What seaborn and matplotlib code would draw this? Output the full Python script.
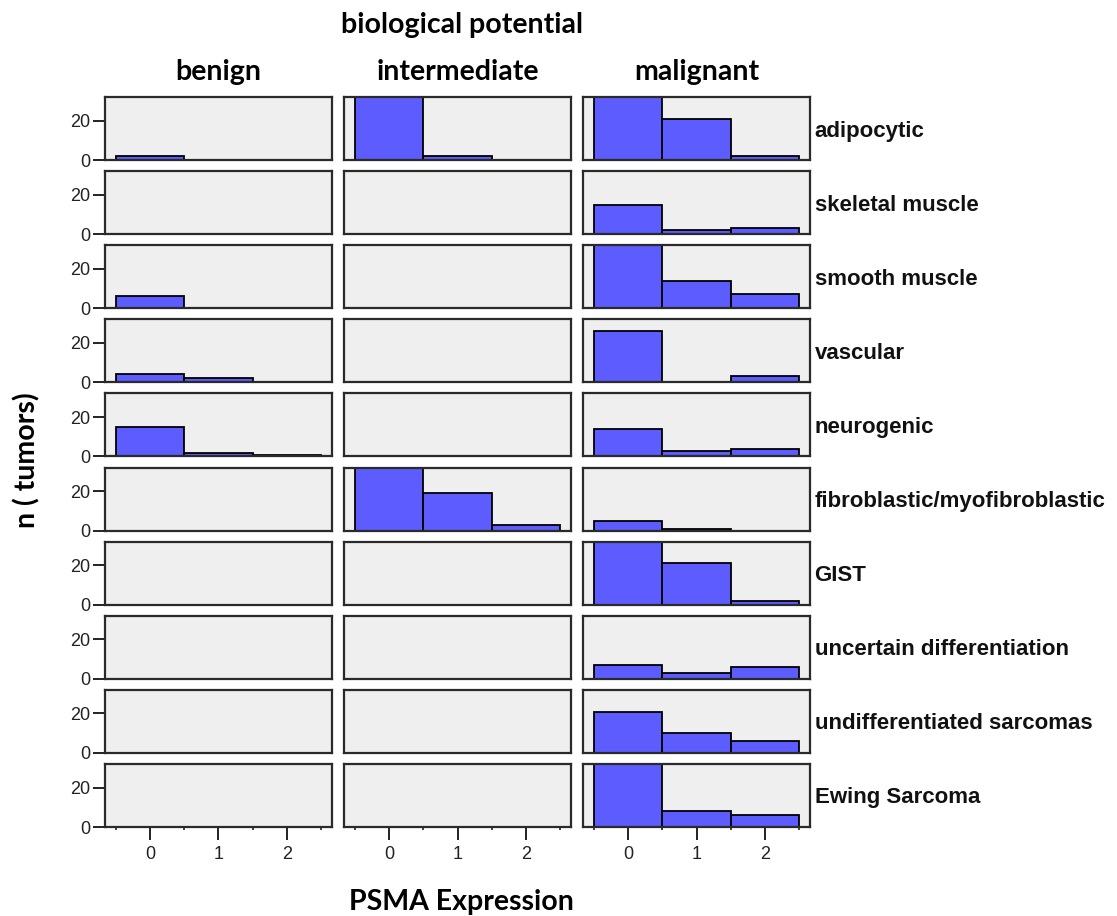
import numpy as np
import pandas as pd
import matplotlib
matplotlib.use("Agg")
import matplotlib.pyplot as plt
import seaborn as sns
from matplotlib.ticker import FixedLocator

# ---------------- data ----------------
categories = ["adipocytic", "skeletal muscle", "smooth muscle", "vascular", "neurogenic",
              "fibroblastic/myofibroblastic", "GIST", "uncertain differentiation",
              "undifferentiated sarcomas", "Ewing Sarcoma"]
potentials = ["benign", "intermediate", "malignant"]
psma_levels = [0, 1, 2]

benign = [[2, 0, 0], [0, 0, 0], [6, 0, 0], [4, 2, 0], [15, 2, 1],
          [0, 0, 0], [0, 0, 0], [0, 0, 0], [0, 0, 0], [0, 0, 0]]
intermediate = [[35, 2, 0], [0, 0, 0], [0, 0, 0], [0, 0, 0], [0, 0, 0],
                [35, 19, 3], [0, 0, 0], [0, 0, 0], [0, 0, 0], [0, 0, 0]]
malignant = [[35, 21, 2], [15, 2, 3], [35, 14, 7], [26, 0, 3], [14, 3, 4],
             [5, 1, 0], [35, 21, 2], [7, 3, 6], [21, 10, 6], [35, 8, 6]]

yticks = [0, 20]
xticks = [0, 1, 2]

rows = []
for pot, table in zip(potentials, [benign, intermediate, malignant]):
    for cat, counts in zip(categories, table):
        for lvl, n in zip(psma_levels, counts):
            if n > 0:
                rows.append({"category": cat, "potential": pot, "psma": lvl, "n": n})
df = pd.DataFrame(rows)

# ---------------- plot ----------------
sns.set_theme(style="white")
plt.rcParams["font.family"] = ["Liberation Sans", "DejaVu Sans"]

W, H = 1117, 916
g = sns.FacetGrid(df, row="category", col="potential", row_order=categories,
                  col_order=potentials, sharex=True, sharey=True,
                  height=0.7, aspect=3.6, despine=False)
g.map_dataframe(sns.histplot, x="psma", weights="n", discrete=True,
                color="#5c5cff", edgecolor="black", linewidth=1.3, alpha=1.0)
fig = g.figure
fig.set_size_inches(W / 100, H / 100)
fig.set_dpi(100)

left, right = 105 / W, 810 / W
top, bottom = 1 - 97 / H, 1 - 827 / H
fig.subplots_adjust(left=left, right=right, top=top, bottom=bottom,
                    wspace=0.053, hspace=0.175)

nrow, ncol = g.axes.shape
for i in range(nrow):
    for j in range(ncol):
        ax = g.axes[i, j]
        ax.set_title("")
        ax.set_xlabel("")
        ax.set_ylabel("")
        ax.set_facecolor("#efefef")
        ax.set_xlim(-0.66, 2.66)
        ax.set_ylim(0, 32)
        for s in ax.spines.values():
            s.set_color("#2a2a2a")
            s.set_linewidth(1.6)
        ax.yaxis.set_major_locator(FixedLocator(yticks))
        ax.xaxis.set_major_locator(FixedLocator(xticks))
        ax.xaxis.set_minor_locator(FixedLocator([-0.5, 0.5, 1.5, 2.5]))
        ax.tick_params(axis="y", which="major", left=(j == 0), length=8.5, width=1.4,
                       labelleft=(j == 0), labelsize=13, colors="#222222", pad=2)
        bottom_row = (i == nrow - 1)
        ax.tick_params(axis="x", which="major", bottom=bottom_row, length=9, width=1.4,
                       labelbottom=bottom_row, labelsize=13, colors="#222222", pad=5)
        ax.tick_params(axis="x", which="minor", bottom=bottom_row, length=2.5, width=1.2,
                       colors="#222222")
    g.axes[i, ncol - 1].text(1.02, 0.46, categories[i], transform=g.axes[i, ncol - 1].transAxes,
                              ha="left", va="center", fontsize=16, fontweight="bold",
                              color="#111111")

title_font = ["Lato", "DejaVu Sans"]
fig.text(462 / W, 1 - 25 / H, "biological potential", ha="center", va="center",
         fontsize=20.5, fontweight="bold", family=title_font, color="black")
for j, pot in enumerate(potentials):
    bb = g.axes[0, j].get_position()
    fig.text((bb.x0 + bb.x1) / 2, 1 - 72 / H, pot, ha="center", va="center",
             fontsize=20.5, fontweight="bold", family=title_font, color="black")
fig.text(461 / W, 1 - 902 / H, "PSMA Expression", ha="center", va="center",
         fontsize=20.5, fontweight="bold", family=title_font, color="black")
fig.text(27 / W, 1 - 460 / H, "n ( tumors)", ha="center", va="center", rotation=90,
         fontsize=20.5, fontweight="bold", family=title_font, color="black")

fig.savefig("out.png", dpi=100, facecolor="white")
